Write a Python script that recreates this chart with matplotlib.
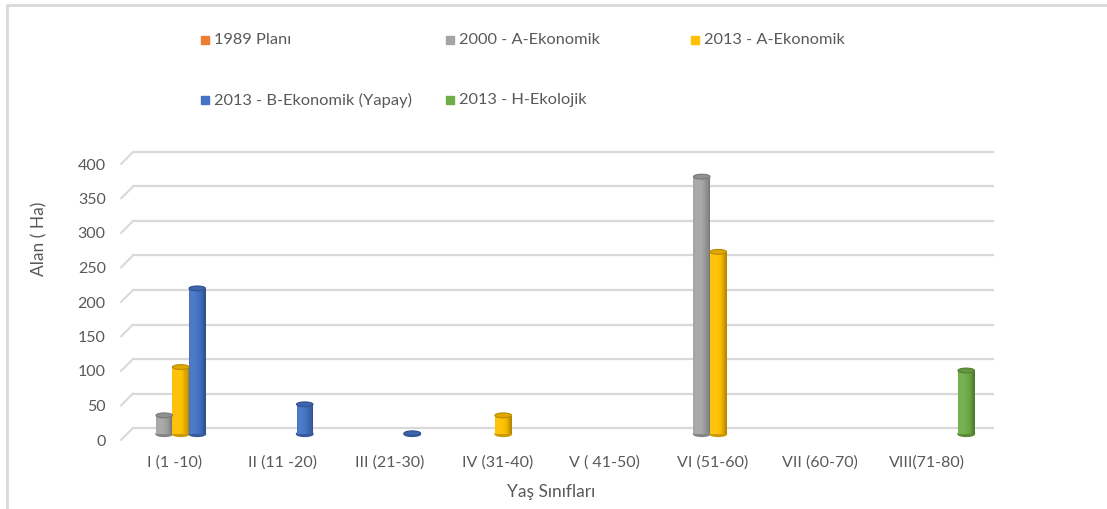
import numpy as np
import matplotlib
matplotlib.use('Agg')
import matplotlib.pyplot as plt
from matplotlib.patches import Ellipse, Rectangle
from matplotlib.transforms import ScaledTranslation
from matplotlib.colors import to_rgb

# data
categories = ['I (1 -10)', 'II (11 -20)', 'III (21-30)', 'IV (31-40)', 'V ( 41-50)',
              'VI (51-60)', 'VII (60-70)', 'VIII(71-80)']
series = ['1989 Planı', '2000 - A-Ekonomik', '2013 - A-Ekonomik',
          '2013 - B-Ekonomik (Yapay)', '2013 - H-Ekolojik']
plan_1989 = [0, 0, 0, 0, 0, 0, 0, 0]
a_2000 = [27, 0, 0, 0, 0, 373, 0, 0]
a_2013 = [97, 0, 0, 27, 0, 264, 0, 0]
b_2013 = [211, 43, 1, 0, 0, 0, 0, 0]
h_2013 = [0, 0, 0, 0, 0, 0, 0, 92]
colors = ['#ED7D31', '#A5A5A5', '#FFC000', '#4472C4', '#70AD47']
yticks = [0, 50, 100, 150, 200, 250, 300, 350, 400]

plt.rcParams['font.family'] = ['Lato', 'DejaVu Sans']
txt = '#595959'
grid_c = '#d9d9d9'

fig = plt.figure(figsize=(11.07, 5.09), dpi=100)
ax = fig.add_axes([121 / 1107, 69 / 509, 860 / 1107, 276 / 509])
ax.set_xlim(-0.5, 7.5)
ax.set_ylim(0, 400)
for s in ax.spines.values():
    s.set_visible(False)

px = 1 / fig.dpi
mid = ax.transData + ScaledTranslation(6 * px, 6 * px, fig.dpi_scale_trans)
back = ax.transData + ScaledTranslation(12 * px, 12 * px, fig.dpi_scale_trans)

# back wall grid + slanted floor edge on the left
for v in yticks:
    ax.plot([-0.5, 7.5], [v, v], color=grid_c, lw=1.6, transform=back, clip_on=False, zorder=0)
    ax.annotate('', xy=(-0.5, v), xytext=(12, 12), textcoords='offset pixels',
                arrowprops=dict(arrowstyle='-', color=grid_c, lw=1.5, shrinkA=0, shrinkB=0))

ax.set_yticks(yticks)
ax.set_yticklabels([str(v) for v in yticks])
ax.set_xticks(range(len(categories)))
ax.set_xticklabels(categories)
ax.tick_params(length=0, labelsize=11.5, labelcolor=txt)
ax.tick_params(axis='y', pad=11)
ax.tick_params(axis='x', pad=11)


def shade(c, b):
    c = np.array(to_rgb(c))
    if b <= 1:
        return tuple(c * b)
    return tuple(c + (1 - c) * (b - 1))


# cylinders
w = 0.1535
n = 14
ell_h = 7
data = [plan_1989, a_2000, a_2013, b_2013, h_2013]
for k, vals in enumerate(data):
    for i, v in enumerate(vals):
        if v <= 0:
            continue
        x0 = i + (k - 2) * w
        base = Ellipse((x0, 0), w, ell_h, transform=mid, color=shade(colors[k], 0.8),
                       zorder=2, clip_on=False)
        ax.add_artist(base)
        edges = np.linspace(x0 - w / 2, x0 + w / 2, n + 1)
        for j in range(n):
            t = ((edges[j] + edges[j + 1]) / 2 - x0) / (w / 2)
            th = np.arcsin(np.clip(t, -1, 1))
            b = 0.78 + 0.28 * np.cos(th + 0.6)
            bar = ax.bar(edges[j], v, width=edges[j + 1] - edges[j] + 0.002, align='edge',
                         color=shade(colors[k], b), lw=0, zorder=3)
            bar.patches[0].set_transform(mid)
        top = Ellipse((x0, v), w, ell_h, transform=mid, facecolor=shade(colors[k], 0.88),
                      edgecolor=shade(colors[k], 0.72), lw=0.8, zorder=4, clip_on=False)
        ax.add_artist(top)

ax.set_ylabel('Alan ( Ha)', fontsize=12.5, color=txt)
ax.yaxis.set_label_coords(-0.086, 0.73)
ax.set_xlabel('Yaş Sınıfları', fontsize=12.5, color=txt, labelpad=10)

# legend laid out like the source
leg_pos = [(205, 40), (450, 40), (695, 40), (205, 100), (450, 100)]
for (lx, ly), name, c in zip(leg_pos, series, colors):
    fig.add_artist(Rectangle((lx / 1107 - 4 / 1107, 1 - ly / 509 - 4 / 509), 8 / 1107, 8 / 509,
                             transform=fig.transFigure, color=c))
    fig.text((lx + 9) / 1107, 1 - ly / 509, name, fontsize=11.8, color=txt, va='center')

# chart area border (top and left only visible)
fig.add_artist(plt.Line2D([7 / 1107, 7 / 1107, 1], [0, 1 - 5 / 509, 1 - 5 / 509],
                          transform=fig.transFigure, color=grid_c, lw=2))

fig.savefig('out.png', dpi=100)
